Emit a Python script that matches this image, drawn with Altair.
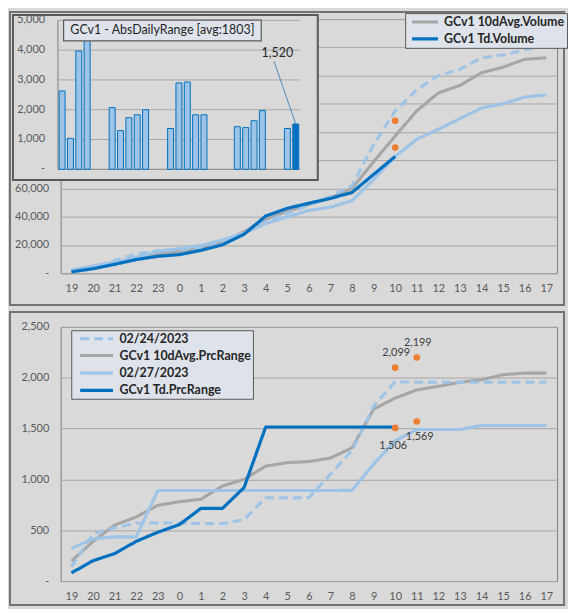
import altair as alt
import pandas as pd

# ---------------- data ----------------
hours = ['19', '20', '21', '22', '23', '0', '1', '2', '3', '4', '5', '6',
         '7', '8', '9', '10', '11', '12', '13', '14', '15', '16', '17']

vol_avg = [1600, 3900, 7400, 10900, 13900, 15500, 17800, 22500, 29400, 38200, 43800, 48700,
           53300, 60000, 79000, 97200, 115000, 127700, 133000, 142000, 146000, 151500, 152600]
vol_d27 = [2300, 5100, 7900, 11400, 15500, 17400, 19700, 23600, 28300, 35200, 39900, 44500,
           46800, 51400, 66400, 82700, 94800, 102000, 109500, 117000, 120000, 124700, 126300]
vol_d24 = [2000, 4400, 9000, 13700, 16000, 16700, 18300, 23000, 28700, 36400, 42600, 48000,
           54500, 62000, 91000, 115000, 130000, 140000, 144500, 152600, 154500, 158400, 161000]
vol_td = [1000, 3200, 6300, 9700, 12000, 13200, 16200, 20200, 27600, 40500, 46000, 49600,
          53000, 57200, 70000, 82700]
vol_dot_hours = ['10', '10']
vol_dot_values = [89000, 108000]

prc_avg = [195, 390, 550, 630, 745, 780, 805, 935, 1000, 1130, 1165, 1175,
           1210, 1310, 1690, 1800, 1880, 1915, 1955, 1980, 2030, 2045, 2045]
prc_d27 = [320, 415, 435, 435, 890, 890, 890, 890, 890, 890, 890, 890,
           890, 893, 1150, 1380, 1490, 1490, 1490, 1530, 1530, 1530, 1530]
prc_d24 = [140, 465, 525, 570, 570, 570, 565, 565, 605, 820, 820, 820,
           1050, 1285, 1720, 1960, 1955, 1955, 1955, 1955, 1955, 1955, 1955]
prc_td = [80, 200, 270, 390, 480, 555, 715, 715, 920, 1515, 1515, 1515,
          1515, 1515, 1515, 1515]
prc_dot_hours = ['10', '11', '10', '11']
prc_dot_values = [2099, 2199, 1506, 1569]

bar_slots = [0, 1, 2, 3, 6, 7, 8, 9, 10, 13, 14, 15, 16, 17, 21, 22, 23, 24, 27, 28]
bar_values = [2630, 1040, 3970, 4700, 2070, 1300, 1730, 1830, 2000, 1370, 2900, 2930,
              1830, 1830, 1430, 1400, 1630, 1970, 1370, 1520]
inset_ticks = [0, 1000, 2000, 3000, 4000, 5000]
inset_title = 'GCv1 - AbsDailyRange [avg:1803]'

vol_names = ['02/24/2023', 'GCv1 10dAvg.Volume', '02/27/2023', 'GCv1 Td.Volume']
prc_names = ['02/24/2023', 'GCv1 10dAvg.PrcRange', '02/27/2023', 'GCv1 Td.PrcRange']

# ---------------- styling ----------------
LIGHT = '#9DC3E6'
GRAY = '#A6A6A6'
DARK = '#0070C0'
ORANGE = '#ED7D31'
FONT = 'Lato'
BG = '#D9D9D9'


def long_df(names, series):
    rows = []
    # z-order: gray, light solid, dashed, dark
    for idx in [1, 2, 0, 3]:
        for h, v in zip(hours, series[idx]):
            rows.append({'hour': h, 'value': v, 'series': names[idx]})
    return pd.DataFrame(rows)


vol_df = long_df(vol_names, [vol_d24, vol_avg, vol_d27, vol_td])
prc_df = long_df(prc_names, [prc_d24, prc_avg, prc_d27, prc_td])
one = pd.DataFrame({'a': [0]})


def make_legend(values, lx, ly, half, sym_off, lab_off, row_pad):
    return alt.Legend(title=None, orient='none', legendX=lx, legendY=ly, values=values,
                      fillColor='#DEE3EB', strokeColor='#595959', padding=2,
                      labelFont=FONT, labelFontSize=12.5, labelFontWeight='bold',
                      labelColor='#262626',
                      symbolType='M-%s,0L%s,0' % (half, half), symbolSize=100,
                      symbolOffset=sym_off, symbolStrokeWidth=4, rowPadding=row_pad,
                      labelOffset=lab_off, zindex=1)


def xenc():
    return alt.X('hour:O', sort=hours, scale=alt.Scale(domain=hours, padding=0.5),
                 axis=alt.Axis(title=None, labelAngle=0, ticks=False, domain=False,
                               labelPadding=9.5, grid=False, zindex=0))


def frame(y1, y2):
    return alt.Chart(one).mark_rect(fill=None, stroke='#767171', strokeWidth=2).encode(
        x=alt.value(-51), x2=alt.value(507), y=alt.value(y1), y2=alt.value(y2))


def series_lines(df, names, y, legend):
    return alt.Chart(df).mark_line(strokeJoin='round').encode(
        x=xenc(), y=y,
        color=alt.Color('series:N', scale=alt.Scale(domain=names,
                                                    range=[LIGHT, GRAY, LIGHT, DARK]),
                        legend=legend),
        strokeDash=alt.StrokeDash('series:N', scale=alt.Scale(
            domain=names, range=[[9, 5], [1, 0], [1, 0], [1, 0]]), legend=legend),
        strokeWidth=alt.StrokeWidth('series:N', scale=alt.Scale(
            domain=names, range=[3, 3.2, 3, 3.8]), legend=None),
    )


# ---------------- top panel: volume ----------------
vol_legend = make_legend(['GCv1 10dAvg.Volume', 'GCv1 Td.Volume'], 347, -6, 2.6, 11, 12, 3)
vol_y = alt.Y('value:Q', scale=alt.Scale(domain=[0, 180000], nice=False),
              axis=alt.Axis(title=None, values=list(range(0, 180001, 20000)),
                            labelExpr="datum.value == 0 ? '-\u00a0\u00a0' : (datum.value > 60000 ? '' : format(datum.value, ','))",
                            ticks=False, domain=False, grid=True, gridColor=GRAY,
                            labelPadding=12, zindex=0))

vol_lines = series_lines(vol_df, vol_names, vol_y, vol_legend)
vol_dots = alt.Chart(pd.DataFrame({'hour': vol_dot_hours, 'value': vol_dot_values})).mark_circle(
    size=45, color=ORANGE, opacity=1).encode(x=xenc(), y=vol_y)

main_top = alt.layer(frame(-7, 288), vol_lines, vol_dots)

# inset bar chart
ix = alt.Scale(domain=[-0.5, 28.5], range=[-7.7, 246], nice=False, zero=False)
iy = alt.Scale(domain=[0, 5000], range=[151.3, 1.3], nice=False)

bars_df = pd.DataFrame({'slot': bar_slots, 'value': bar_values,
                        'kind': ['past'] * (len(bar_slots) - 1) + ['today']})
ticks_df = pd.DataFrame({'v': inset_ticks})

inset_box = alt.Chart(one).mark_rect(fill=BG, stroke='#595959', strokeWidth=2).encode(
    x=alt.value(-48), x2=alt.value(259), y=alt.value(-4), y2=alt.value(162))
inset_grid = alt.Chart(ticks_df).transform_filter('datum.v > 0').mark_rule(
    color=GRAY, strokeWidth=1).encode(
    y=alt.Y('v:Q', scale=iy, axis=None),
    x=alt.X(datum=-0.5, scale=ix, axis=None), x2=alt.X2(datum=28.5))
inset_axis_left = alt.Chart(one).mark_rule(color='#7F7F7F', strokeWidth=1).encode(
    x=alt.X(datum=-0.5, scale=ix, axis=None),
    y=alt.Y(datum=0, scale=iy, axis=None), y2=alt.Y2(datum=5000))
inset_axis_bottom = alt.Chart(one).mark_rule(color='#7F7F7F', strokeWidth=1).encode(
    x=alt.X(datum=-0.5, scale=ix, axis=None), x2=alt.X2(datum=28.5),
    y=alt.Y(datum=0, scale=iy, axis=None))
inset_bars = alt.Chart(bars_df).mark_bar(size=6, stroke=DARK, strokeWidth=1).encode(
    x=alt.X('slot:Q', scale=ix, axis=None),
    y=alt.Y('value:Q', scale=iy, axis=None),
    fill=alt.Fill('kind:N', scale=alt.Scale(domain=['past', 'today'], range=[LIGHT, DARK]),
                  legend=None))
inset_labels = alt.Chart(ticks_df).transform_calculate(
    label="datum.v == 0 ? '-\u00a0\u00a0' : format(datum.v, ',')").mark_text(
    align='right', baseline='middle', dx=-13, font=FONT, fontSize=11, color='#595959').encode(
    x=alt.X(datum=-0.5, scale=ix, axis=None),
    y=alt.Y('v:Q', scale=iy, axis=None), text='label:N')
title_box = alt.Chart(one).mark_rect(fill='#DEE3EB', stroke='#595959', strokeWidth=1.2).encode(
    x=alt.value(3), x2=alt.value(202), y=alt.value(1), y2=alt.value(22))
title_text = alt.Chart(one).mark_text(
    text=inset_title, font=FONT, fontSize=12.5, color='#1F1F1F', align='center',
    baseline='middle').encode(x=alt.value(102.5), y=alt.value(11.5))
last_df = pd.DataFrame({'slot': [bar_slots[-1]], 'value': [bar_values[-1]]})
leader = alt.Chart(last_df).mark_rule(color='#2E75B6', strokeWidth=0.8).encode(
    x=alt.X('slot:Q', scale=ix, axis=None), y=alt.Y('value:Q', scale=iy, axis=None),
    x2=alt.X2(datum=25.4), y2=alt.Y2(datum=3620))
last_label = alt.Chart(last_df).transform_calculate(
    label="format(datum.value, ',')").mark_text(
    font=FONT, fontSize=12.5, color='#262626', align='center', baseline='middle').encode(
    x=alt.X(datum=25.8, scale=ix, axis=None), y=alt.Y(datum=3900, scale=iy, axis=None),
    text='label:N')

inset = alt.layer(inset_box, inset_grid, inset_axis_left, inset_axis_bottom, inset_bars,
                  title_box, title_text, leader, last_label, inset_labels)

top = alt.layer(main_top, inset).resolve_scale(x='independent', y='independent').properties(
    width=500, height=256)

# ---------------- bottom panel: price range ----------------
prc_legend = make_legend(prc_names, 10.7, 3.4, 3.3, 16.5, 16, 3.5)
prc_y = alt.Y('value:Q', scale=alt.Scale(domain=[0, 2500], nice=False),
              axis=alt.Axis(title=None, values=list(range(0, 2501, 500)),
                            labelExpr="datum.value == 0 ? '-\u00a0\u00a0' : format(datum.value, ',')",
                            ticks=False, domain=False, grid=True, gridColor=GRAY,
                            labelPadding=12, zindex=0))
prc_lines = series_lines(prc_df, prc_names, prc_y, prc_legend)
prc_dot_df = pd.DataFrame({'hour': prc_dot_hours, 'value': prc_dot_values})
prc_dots = alt.Chart(prc_dot_df).mark_circle(size=45, color=ORANGE, opacity=1).encode(
    x=xenc(), y=prc_y)
prc_lab_hi = alt.Chart(prc_dot_df).transform_filter('datum.value > 1800').transform_calculate(
    label="format(datum.value, ',')").mark_text(
    font=FONT, fontSize=11, color='#404040', dy=-15, dx=1).encode(x=xenc(), y=prc_y, text='label:N')
prc_lab_lo1 = alt.Chart(prc_dot_df).transform_filter('datum.value <= 1520').transform_calculate(
    label="format(datum.value, ',')").mark_text(
    font=FONT, fontSize=11, color='#404040', dy=18, dx=-2).encode(x=xenc(), y=prc_y, text='label:N')
prc_lab_lo2 = alt.Chart(prc_dot_df).transform_filter(
    'datum.value > 1520 && datum.value <= 1800').transform_calculate(
    label="format(datum.value, ',')").mark_text(
    font=FONT, fontSize=11, color='#404040', dy=16, dx=3).encode(x=xenc(), y=prc_y, text='label:N')

bottom = alt.layer(frame(-15, 280), prc_lines, prc_dots, prc_lab_hi, prc_lab_lo1,
                   prc_lab_lo2).properties(width=500, height=256)

chart = alt.vconcat(top, bottom, spacing=3).resolve_scale(
    color='independent', strokeDash='independent', strokeWidth='independent'
).properties(
    padding=0, background=BG
).configure_view(stroke='#7F7F7F', strokeWidth=1).configure_axis(
    labelFont=FONT, labelFontSize=11, labelColor='#595959'
)

chart.save('out.html', embed_options={'renderer': 'svg', 'actions': False})
